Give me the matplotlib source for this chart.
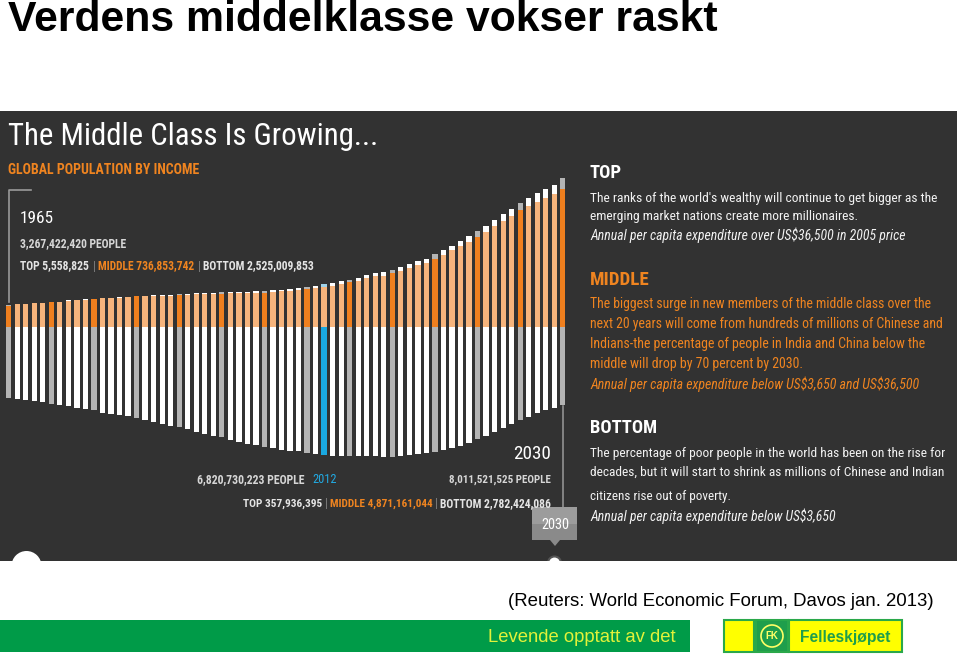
import matplotlib
matplotlib.use('Agg')
import matplotlib.pyplot as plt
from matplotlib.patches import Rectangle, Circle, Polygon
from matplotlib import font_manager as fm
import numpy as np

# ---------------- data (millions of people) ----------------
top_pop = [6, 7, 8, 9, 10, 11, 12, 13, 14, 15,
           16, 17, 18, 20, 22, 24, 26, 28, 30, 32,
           34, 36, 38, 40, 42, 44, 47, 50, 53, 56,
           60, 63, 66, 69, 72, 75, 78, 82, 86, 90,
           95, 100, 105, 110, 115, 120, 126, 132, 138, 145,
           152, 160, 168, 176, 185, 195, 205, 215, 227, 240,
           255, 270, 290, 310, 332, 358]
middle_pop = [737, 777, 797, 821, 830, 864, 868, 912, 921, 945,
              955, 989, 999, 1021, 1030, 1063, 1066, 1072, 1082, 1091,
              1103, 1122, 1134, 1143, 1148, 1163, 1165, 1168, 1175, 1187,
              1193, 1215, 1240, 1255, 1276, 1319, 1352, 1408, 1439, 1506,
              1557, 1623, 1702, 1768, 1798, 1885, 1974, 2074, 2174, 2248,
              2397, 2540, 2684, 2832, 2999, 3176, 3353, 3544, 3734, 3918,
              4115, 4266, 4412, 4544, 4674, 4871]
bottom_pop = [2525, 2549, 2595, 2630, 2676, 2725, 2782, 2817, 2866, 2912,
              2958, 3043, 3078, 3124, 3170, 3230, 3290, 3361, 3442, 3502,
              3558, 3629, 3714, 3784, 3855, 3911, 4007, 4077, 4137, 4194,
              4254, 4300, 4349, 4384, 4405, 4455, 4511, 4547, 4561, 4571,
              4582, 4582, 4582, 4585, 4596, 4590, 4571, 4536, 4501, 4476,
              4420, 4360, 4278, 4208, 4102, 3982, 3865, 3735, 3594, 3452,
              3301, 3184, 3064, 2948, 2866, 2782]
highlight_bar = 37

row_1965 = ["TOP 5,558,825", "MIDDLE 736,853,742", "BOTTOM 2,525,009,853"]
row_2030 = ["TOP 357,936,395", "MIDDLE 4,871,161,044", "BOTTOM 2,782,424,086"]

# ---------------- setup ----------------
W, H = 959, 655
fig = plt.figure(figsize=(W / 100, H / 100), dpi=100)
fig.patch.set_facecolor('white')


def pick(names):
    for n in names:
        try:
            fm.findfont(fm.FontProperties(family=n), fallback_to_default=False)
            return n
        except Exception:
            pass
    return 'DejaVu Sans'


NARROW = pick(['Liberation Sans Narrow', 'Roboto Condensed', 'Open Sans Condensed', 'Roboto', 'Lato'])
ARIAL = pick(['Liberation Sans', 'Arial', 'DejaVu Sans'])

ax0 = fig.add_axes([0, 0, 1, 1])
ax0.set_xlim(0, W)
ax0.set_ylim(H, 0)
ax0.axis('off')
renderer = fig.canvas.get_renderer()


def txt(x, y, s, width=None, size=10, color='white', weight='normal', style='normal',
        family=None, ha='left', va='baseline', zorder=6):
    t = ax0.text(x, y, s, fontsize=size, color=color, fontweight=weight, fontstyle=style,
                 family=family or NARROW, ha=ha, va=va, zorder=zorder)
    if width:
        w = t.get_window_extent(renderer).width
        if w > 0:
            t.set_fontsize(size * width / w)
    return t


# ---------------- slide title ----------------
txt(8, 31, "Verdens middelklasse vokser raskt", width=710, size=27, color='black',
    weight='bold', family=ARIAL)

# ---------------- dark panel ----------------
panel = Rectangle((0, 111), 957, 450, facecolor='#323232', edgecolor='none', zorder=1)
ax0.add_patch(panel)

ORANGE = '#ef8420'
LIGHTTXT = '#e4e4e4'

txt(8, 145, "The Middle Class Is Growing...", width=372, size=25, color='white')
txt(8, 174, "GLOBAL POPULATION BY INCOME", width=192, size=11, color=ORANGE, weight='bold')

# 1965 marker line
ax0.plot([9, 9, 31], [302, 190, 190], color='#9a9a9a', lw=1.2, zorder=3)
txt(20, 223, "1965", width=34, size=15, color='white')
txt(20, 247, "3,267,422,420 PEOPLE", width=108, size=9, color='#d6d6d6', weight='bold')
txt(20, 269.5, row_1965[0], width=70, size=9, color=LIGHTTXT, weight='bold')
txt(93, 269.5, "|", size=9, color='#808080')
txt(98, 269.5, row_1965[1], width=97, size=9, color=ORANGE, weight='bold')
txt(198, 269.5, "|", size=9, color='#808080')
txt(203, 269.5, row_1965[2], width=112, size=9, color=LIGHTTXT, weight='bold')

# 2012 / 2030 labels
t_people = txt(197, 483, "6,820,730,223 PEOPLE", width=109, size=9, color='#d6d6d6', weight='bold')
txt(312, 483, "2012", size=t_people.get_fontsize() * 1.05, color='#22aae2')
txt(513, 459, "2030", width=38, size=16, color='white')
txt(449, 483, "8,011,521,525 PEOPLE", width=102, size=9, color='#d6d6d6', weight='bold')
txt(243, 507, row_2030[0], width=80, size=9, color=LIGHTTXT, weight='bold')
txt(325, 507, "|", size=9, color='#808080')
txt(330, 507, row_2030[1], width=103, size=9, color=ORANGE, weight='bold')
txt(435, 507, "|", size=9, color='#808080')
txt(440, 507, row_2030[2], width=112, size=9, color=LIGHTTXT, weight='bold')

# 2030 connector line and tooltip
ax0.plot([562.8, 562.8], [406, 507], color='#9a9a9a', lw=1.1, zorder=3)
ax0.add_patch(Rectangle((532, 507), 45, 17, facecolor='#9c9c9c', edgecolor='none', zorder=4))
ax0.add_patch(Rectangle((532, 524), 45, 16, facecolor='#8a8a8a', edgecolor='none', zorder=4))
ax0.add_patch(Polygon([[550, 540], [560, 540], [555, 546]], closed=True,
                      facecolor='#8a8a8a', edgecolor='none', zorder=4))
txt(555, 529, "2030", width=28, size=12, color='white', ha='center')

c1 = Circle((554.5, 563), 6.5, facecolor='white', edgecolor='#555555', lw=1.5, zorder=4)
ax0.add_patch(c1)
c1.set_clip_path(panel)
c2 = Circle((554.5, 563), 2, facecolor='#666666', edgecolor='none', zorder=5)
ax0.add_patch(c2)
c2.set_clip_path(panel)
c3 = Circle((26.5, 566), 15, facecolor='white', edgecolor='none', zorder=4)
ax0.add_patch(c3)
c3.set_clip_path(panel)

# ---------------- right column ----------------
RX = 590
txt(RX, 178, "TOP", width=32, size=15, color='white', weight='bold')
txt(RX, 202, "The ranks of the world's wealthy will continue to get bigger as the", width=346, size=11, color='#f2f2f2')
txt(RX, 220, "emerging market nations create more millionaires.", width=267, size=11, color='#f2f2f2')
txt(RX, 240, r"Annual per capita expenditure over US\$36,500 in 2005 price", width=313, size=11,
    color='#f2f2f2', style='italic')

txt(RX, 285, "MIDDLE", width=60, size=15, color=ORANGE, weight='bold')
txt(RX, 308, "The biggest surge in new members of the middle class over the", width=340, size=11, color=ORANGE)
txt(RX, 328, "next 20 years will come from hundreds of millions of Chinese and", width=353, size=11, color=ORANGE)
txt(RX, 348, "Indians-the percentage of people in India and China below the", width=337, size=11, color=ORANGE)
txt(RX, 368, "middle will drop by 70 percent by 2030.", width=214, size=11, color=ORANGE)
txt(RX, 389, r"Annual per capita expenditure below US\$3,650 and US\$36,500", width=328, size=11,
    color=ORANGE, style='italic')

txt(RX, 433, "BOTTOM", width=67, size=15, color='white', weight='bold')
txt(RX, 457, "The percentage of poor people in the world has been on the rise for", width=353, size=11, color='#f2f2f2')
txt(RX, 476, "decades, but it will start to shrink as millions of Chinese and Indian", width=352, size=11, color='#f2f2f2')
txt(RX, 500, "citizens rise out of poverty.", width=140, size=11, color='#f2f2f2')
txt(RX, 521, r"Annual per capita expenditure below US\$3,650", width=243, size=11,
    color='#f2f2f2', style='italic')

# ---------------- footer ----------------
txt(508, 606, "(Reuters: World Economic Forum, Davos jan. 2013)", width=426, size=13,
    color='black', family=ARIAL)
ax0.add_patch(Rectangle((0, 620), 690, 32, facecolor='#009b48', edgecolor='none', zorder=1))
txt(676, 642, "Levende opptatt av det", width=188, size=13, color='#e2f23a', family=ARIAL, ha='right')
ax0.add_patch(Rectangle((724, 620), 30, 32, facecolor='#ffff00', edgecolor='#2aa84a', lw=1.5, zorder=2))
ax0.add_patch(Rectangle((756, 620), 32, 32, facecolor='#1f9e4c', edgecolor='#2aa84a', lw=1.5, zorder=2))
ax0.add_patch(Rectangle((789, 620), 113, 32, facecolor='#ffff00', edgecolor='#2aa84a', lw=1.5, zorder=2))
ax0.add_patch(Circle((772, 636), 11, facecolor='#1f9e4c', edgecolor='#ffff66', lw=1.2, zorder=3))
txt(772, 636, "FK", size=7, color='#ffff66', weight='bold', family=ARIAL, ha='center', va='center')
txt(800, 642, "Felleskjøpet", width=90, size=13, color='#1f9e4c', weight='bold', family=ARIAL)

# ---------------- bars ----------------
axb = fig.add_axes([0, (H - 470) / H, 575 / W, 300 / H], zorder=3)
axb.set_xlim((0 - 8.7) / 8.525, (575 - 8.7) / 8.525)
axb.set_ylim(-(470 - 326.5) * 35.3, (326.5 - 170) * 35.3)
axb.axis('off')
axb.patch.set_alpha(0)

n = len(bottom_pop)
idx = np.arange(n)
dark = (idx % 5 == 0)
bottom_colors = ['#b4b4b4' if d else '#ffffff' for d in dark]
mid_colors = ['#ef7f1e' if d else '#f6b47c' for d in dark]
top_colors = ['#b4b4b4' if d else '#ffffff' for d in dark]
bottom_colors[highlight_bar] = '#1aa8e0'
top_colors[highlight_bar] = '#9fd3ea'

bw = 0.62
axb.bar(idx, -np.array(bottom_pop), width=bw, color=bottom_colors, linewidth=0)
axb.bar(idx, middle_pop, width=bw, color=mid_colors, linewidth=0)
axb.bar(idx, top_pop, bottom=middle_pop, width=bw, color=top_colors, linewidth=0)

fig.savefig('out.png', dpi=100, facecolor='white')
